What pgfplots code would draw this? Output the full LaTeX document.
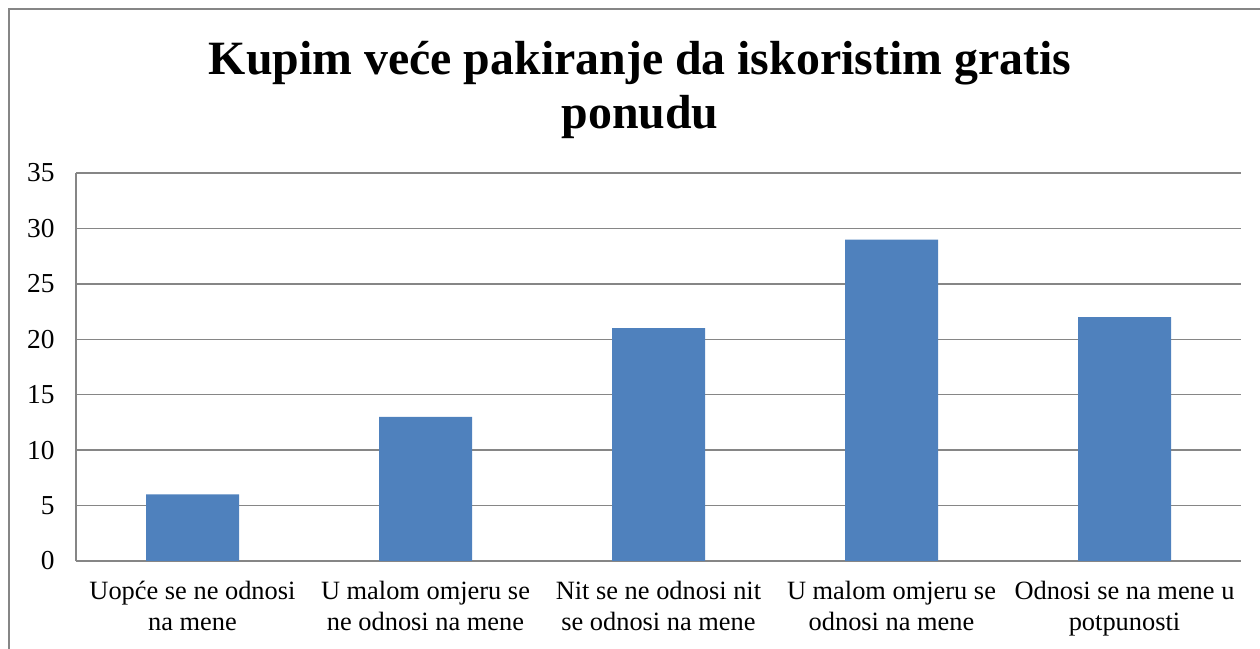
\documentclass[border=0pt]{standalone}
\usepackage{fontspec}
\setmainfont{Liberation Serif}
\usepackage{pgfplots}
\pgfplotsset{compat=1.18}
\definecolor{barblue}{HTML}{4F81BD}
\definecolor{gridgray}{HTML}{868686}
\begin{document}
\begin{tikzpicture}
\useasboundingbox (0,0) rectangle (1260bp,649bp);
\draw[gridgray, line width=1.5bp] (9bp,0) -- (9bp,640bp) -- (1260bp,640bp);
\node[anchor=base, align=center, font=\fontsize{48}{55}\selectfont\bfseries] at (640bp,520bp) {Kupim veće pakiranje da iskoristim gratis\\ponudu};
\begin{axis}[
  at={(76bp,88bp)}, anchor=south west,
  scale only axis, width=1165bp, height=388bp,
  xmin=0, xmax=5, ymin=0, ymax=35,
  ytick={0,5,...,35},
  xtick={0.5,1.5,2.5,3.5,4.5},
  xticklabels={{Uopće se ne odnosi\\na mene},{U malom omjeru se\\ne odnosi na mene},{Nit se ne odnosi nit\\se odnosi na mene},{U malom omjeru se\\odnosi na mene},{Odnosi se na mene u\\potpunosti}},
  xticklabel style={align=center, font=\fontsize{26.5}{31}\selectfont, yshift=-17bp},
  yticklabel style={font=\fontsize{27.5}{31}\selectfont, xshift=-18bp},
  /pgf/number format/assume math mode=true,
  major tick length=0pt,
  ymajorgrids, grid style={gridgray, line width=1.5bp},
  axis line style={gridgray, line width=1.5bp},
  axis x line*=bottom, axis y line*=left,
  separate axis lines,
  x axis line style={-}, y axis line style={-},
]
\addplot[ybar, bar width=93bp, fill=barblue, draw=none, bar shift=0pt] coordinates {(0.5,6) (1.5,13) (2.5,21) (3.5,29) (4.5,22)};
\end{axis}
\end{tikzpicture}
\end{document}
